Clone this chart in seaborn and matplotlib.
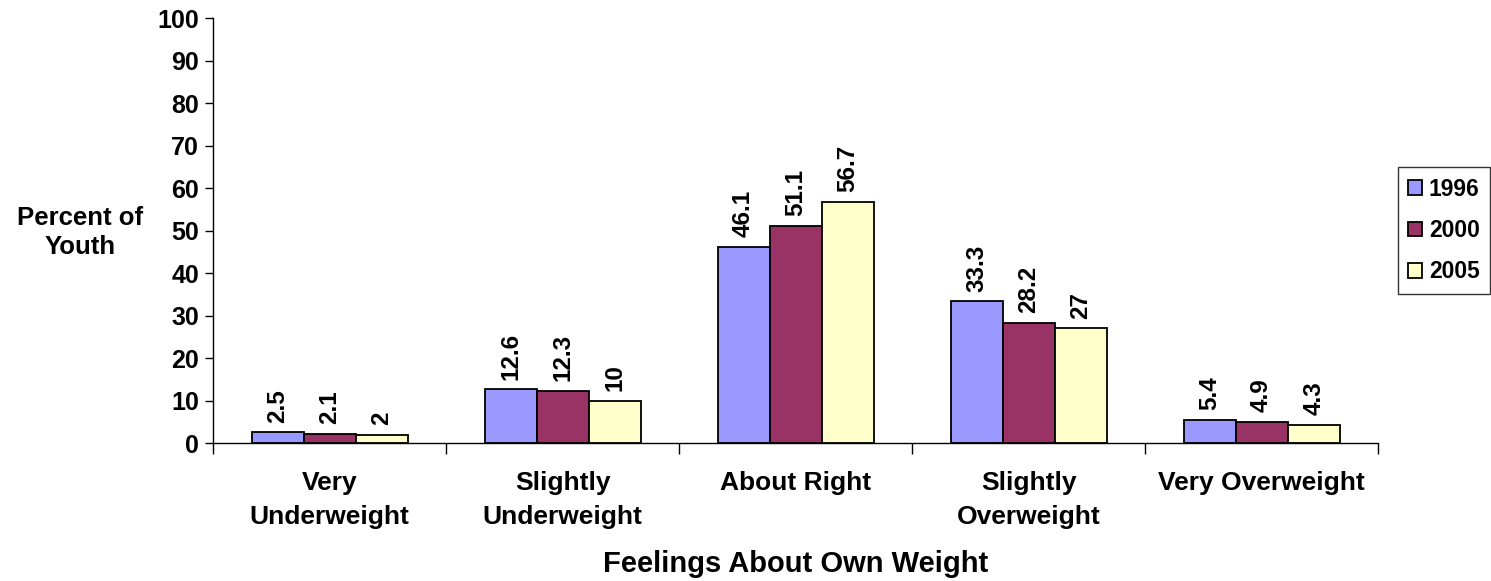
import pandas as pd
import matplotlib.pyplot as plt
import seaborn as sns
import numpy as np

# Data
categories = ["Very\nUnderweight", "Slightly\nUnderweight", "About Right",
              "Slightly\nOverweight", "Very Overweight"]
years = ["1996", "2000", "2005"]
v1996 = [2.5, 12.6, 46.1, 33.3, 5.4]
v2000 = [2.1, 12.3, 51.1, 28.2, 4.9]
v2005 = [2, 10, 56.7, 27, 4.3]

df = pd.DataFrame({"Category": categories * 3,
                   "Year": [y for y in years for _ in categories],
                   "Value": v1996 + v2000 + v2005})

sns.set_style("white")
plt.rcParams['font.family'] = ['Liberation Sans', 'DejaVu Sans']
plt.rcParams['font.weight'] = 'bold'
plt.rcParams['text.color'] = 'black'
plt.rcParams['axes.labelcolor'] = 'black'
plt.rcParams['xtick.color'] = 'black'
plt.rcParams['ytick.color'] = 'black'

fig = plt.figure(figsize=(14.91, 5.81), dpi=100)
ax = fig.add_axes([0.1429, 0.2375, 0.7814, 0.7315])

palette = {"1996": "#9999FF", "2000": "#993366", "2005": "#FFFFCC"}
sns.barplot(data=df, x="Category", y="Value", hue="Year", palette=palette,
            width=0.67, gap=0, edgecolor="black", linewidth=1.3,
            saturation=1, ax=ax, legend=True)

# Data labels
for cont in ax.containers:
    labels = [f"{v:g}" for v in cont.datavalues]
    ax.bar_label(cont, labels=labels, rotation=90, padding=7,
                 fontsize=17.5, fontweight='bold', color='black')

ax.set_xlim(-0.5, 4.5)
ax.set_ylim(0, 100)
ax.set_yticks(range(0, 101, 10))
ax.tick_params(axis='y', labelsize=18, length=6, direction='out', width=1, left=True, pad=4)
ax.tick_params(axis='x', which='major', labelsize=19, length=0, pad=20)
ax.set_xticks(np.arange(-0.5, 5, 1), minor=True)
ax.tick_params(axis='x', which='minor', length=8, direction='out', width=1, bottom=True)
for lab in ax.get_xticklabels():
    lab.set_fontweight('bold')
    lab.set_linespacing(1.55)
for lab in ax.get_yticklabels():
    lab.set_fontweight('bold')

for side in ['top', 'right']:
    ax.spines[side].set_visible(False)
for side in ['left', 'bottom']:
    ax.spines[side].set_color('black')
    ax.spines[side].set_linewidth(1)

ax.set_xlabel("Feelings About Own Weight", fontsize=21, fontweight='bold', labelpad=15)
ax.set_ylabel("")
fig.text(0.054, 0.6, "Percent of\nYouth", ha='center', va='center',
         fontsize=18.5, fontweight='bold', linespacing=1.3)

leg = ax.legend(loc='center left', bbox_to_anchor=(1.017, 0.50), frameon=True,
                fancybox=False, edgecolor='black', fontsize=16.5,
                handlelength=0.6, handleheight=0.6, handletextpad=0.3,
                labelspacing=0.8, borderpad=0.45, borderaxespad=0, title=None)
leg.get_frame().set_linewidth(1)
for t in leg.get_texts():
    t.set_fontweight('bold')

fig.savefig("out.png", dpi=100)
